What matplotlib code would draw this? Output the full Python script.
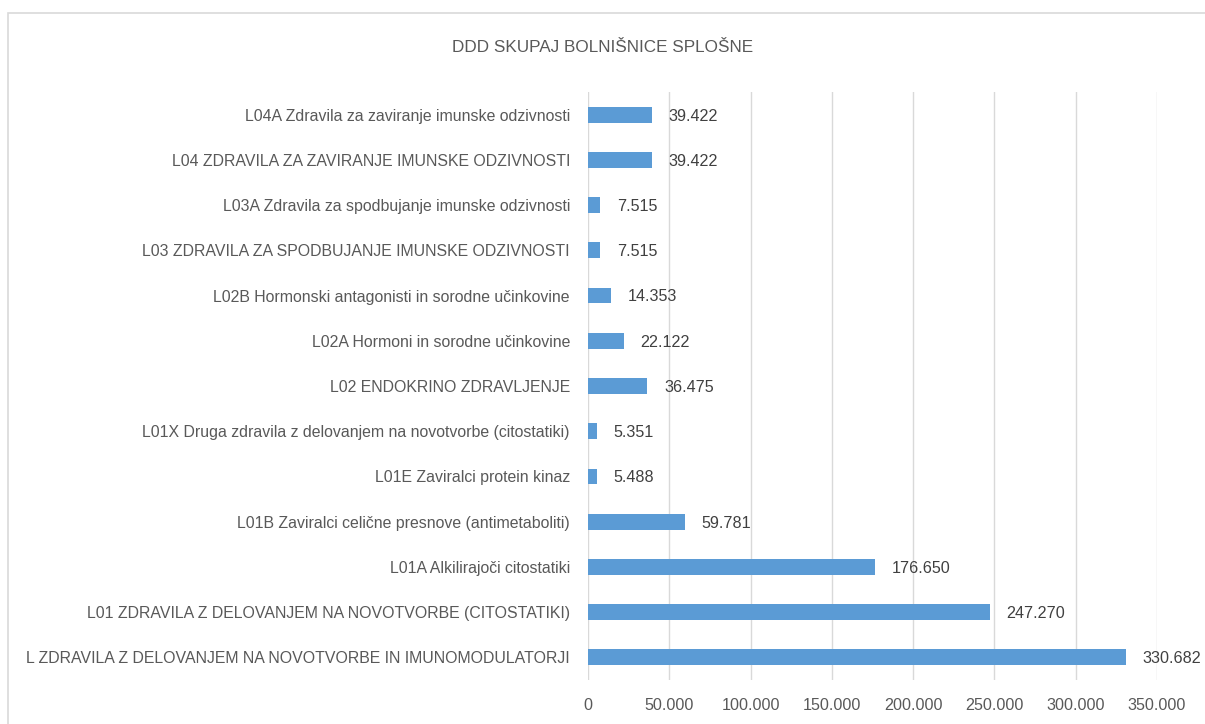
import matplotlib.pyplot as plt
from matplotlib.patches import Rectangle

# categories bottom to top, as drawn
categories = [
    "L ZDRAVILA Z DELOVANJEM NA NOVOTVORBE IN IMUNOMODULATORJI",
    "L01 ZDRAVILA Z DELOVANJEM NA NOVOTVORBE (CITOSTATIKI)",
    "L01A Alkilirajoči citostatiki",
    "L01B Zaviralci celične presnove (antimetaboliti)",
    "L01E Zaviralci protein kinaz",
    "L01X Druga zdravila z delovanjem na novotvorbe (citostatiki)",
    "L02 ENDOKRINO ZDRAVLJENJE",
    "L02A Hormoni in sorodne učinkovine",
    "L02B Hormonski antagonisti in sorodne učinkovine",
    "L03 ZDRAVILA ZA SPODBUJANJE IMUNSKE ODZIVNOSTI",
    "L03A Zdravila za spodbujanje imunske odzivnosti",
    "L04 ZDRAVILA ZA ZAVIRANJE IMUNSKE ODZIVNOSTI",
    "L04A Zdravila za zaviranje imunske odzivnosti",
]
values = [330682, 247270, 176650, 59781, 5488, 5351, 36475, 22122, 14353, 7515, 7515, 39422, 39422]
xticks = [0, 50000, 100000, 150000, 200000, 250000, 300000, 350000]
title = "DDD SKUPAJ BOLNIŠNICE SPLOŠNE"

def fmt(v):
    return f"{v:,}".replace(",", ".")

plt.rcParams['font.family'] = ['Liberation Sans', 'DejaVu Sans']
txt = '#595959'

fig = plt.figure(figsize=(12.05, 7.24), dpi=100)
ax = fig.add_axes([588 / 1205, 1 - 680 / 724, (1157 - 588) / 1205, (680 - 92) / 724])

y = range(len(categories))
ax.barh(y, values, height=0.35, color='#5B9BD5', zorder=3)
for i, v in enumerate(values):
    ax.annotate(fmt(v), (v, i), xytext=(12, -1), textcoords='offset points',
                va='center', ha='left', fontsize=11.6, color='#404040')

ax.set_xlim(0, 350000)
ax.set_ylim(-0.5, len(categories) - 0.5)
ax.set_xticks(xticks)
ax.set_xticklabels([fmt(t) for t in xticks], fontsize=11.6, color=txt)
ax.set_yticks(list(y))
ax.set_yticklabels(categories, fontsize=11.4, color=txt)
ax.tick_params(axis='both', length=0)
ax.tick_params(axis='y', pad=13)
ax.tick_params(axis='x', pad=13)
ax.grid(axis='x', color='#D9D9D9', linewidth=1, zorder=0)
for s in ax.spines.values():
    s.set_visible(False)

fig.text(0.5, 1 - 48 / 724, title, ha='center', va='center', fontsize=12.3, color=txt)

# chart frame
fig.patches.append(Rectangle((8 / 1205, -0.1), 1.2, 1 - 13 / 724 + 0.1,
                             transform=fig.transFigure, fill=False,
                             edgecolor='#D9D9D9', linewidth=1.2))

fig.savefig('out.png', dpi=100)
